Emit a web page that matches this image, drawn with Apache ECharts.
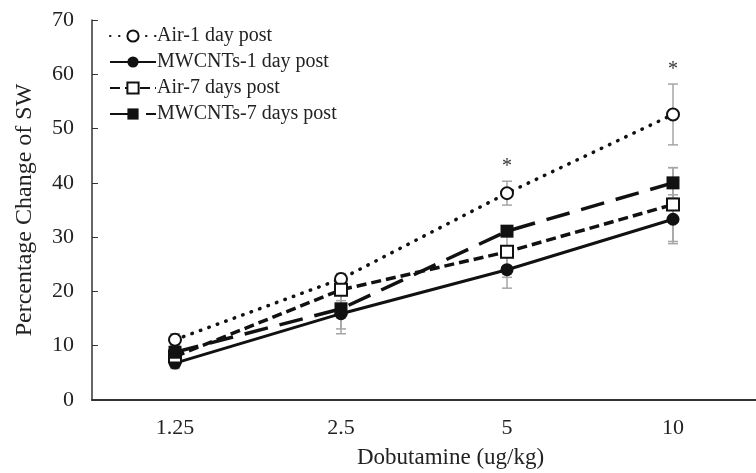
<!DOCTYPE html>
<html>
<head>
<meta charset="utf-8">
<script src="https://cdn.jsdelivr.net/npm/echarts@6/dist/echarts.min.js"></script>
<style>
  html, body { margin: 0; padding: 0; background: #fff; }
  #main { width: 756px; height: 473px; }
</style>
</head>
<body>
<div id="main"></div>
<script>
// 剂量分类
var doses = ["1.25", "2.5", "5", "10"];
// 各组均值
var air1 = [11.1, 22.3, 38.1, 52.6];
var mw1 = [6.8, 15.9, 24.0, 33.3];
var air7 = [8.0, 20.3, 27.3, 36.0];
var mw7 = [8.8, 16.8, 31.1, 40.0];
// 误差 (±)
var air1Err = [1.1, 1.0, 2.2, 5.6];
var mw1Err = [1.0, 3.7, 3.4, 4.5];
var air7Err = [1.2, 2.0, 4.7, 6.8];
var mw7Err = [1.0, 3.7, 0.9, 2.8];
// 显著性标记
var sigMarks = ["", "", "*", "*"];

var serif = "Liberation Serif";
var oChart = echarts.init(document.getElementById("main"));

function errData(vals, errs) {
  var out = [];
  for (var i = 0; i < vals.length; i++) {
    out.push([i, vals[i], errs[i]]);
  }
  return out;
}

// 误差线
function errSeries(vals, errs) {
  return {
    type: "custom",
    z: 1,
    silent: true,
    data: errData(vals, errs),
    renderItem: function (params, api) {
      var x = api.value(0), y = api.value(1), e = api.value(2);
      var p1 = api.coord([x, y + e]);
      var p2 = api.coord([x, y - e]);
      var st = { stroke: "#a6a6a6", lineWidth: 1.5 };
      return {
        type: "group",
        children: [
          { type: "line", shape: { x1: p1[0], y1: p1[1], x2: p2[0], y2: p2[1] }, style: st },
          { type: "line", shape: { x1: p1[0] - 5, y1: p1[1], x2: p1[0] + 5, y2: p1[1] }, style: st },
          { type: "line", shape: { x1: p2[0] - 5, y1: p2[1], x2: p2[0] + 5, y2: p2[1] }, style: st },
        ],
      };
    },
  };
}

var sigData = [];
for (var i = 0; i < doses.length; i++) {
  sigData.push([i, air1[i] + air1Err[i]]);
}

oChart.setOption({
  animation: false,
  title: {
    text: "Dobutamine (ug/kg)",
    left: 357,
    top: 446,
    padding: 0,
    textStyle: { fontFamily: serif, fontSize: 23, fontWeight: "normal", color: "#222" },
  },
  legend: {
    orient: "vertical",
    left: 104,
    top: 21,
    itemWidth: 46,
    itemHeight: 14,
    itemGap: 6,
    textStyle: { fontFamily: serif, fontSize: 20, color: "#222", padding: [0, 0, 0, -4] },
    data: ["Air-1 day post", "MWCNTs-1 day post", "Air-7 days post", "MWCNTs-7 days post"],
  },
  grid: {
    left: 92,
    top: 20,
    width: 676,
    height: 380,
  },
  xAxis: {
    type: "category",
    data: doses,
    boundaryGap: true,
    axisLine: { lineStyle: { color: "#333", width: 2 } },
    axisTick: { show: false },
    axisLabel: { fontFamily: serif, fontSize: 22, color: "#222", margin: 17 },
  },
  yAxis: {
    type: "value",
    min: 0,
    max: 70,
    interval: 10,
    name: "Percentage Change of SW",
    nameLocation: "middle",
    nameGap: 55,
    nameTextStyle: { fontFamily: serif, fontSize: 24, color: "#222" },
    axisLine: { show: true, lineStyle: { color: "#333", width: 1.5 } },
    axisTick: { show: true, inside: true, length: 6, lineStyle: { color: "#333" } },
    axisLabel: { fontFamily: serif, fontSize: 22, color: "#222", margin: 18 },
    splitLine: { show: false },
  },
  series: [
    errSeries(air1, air1Err),
    errSeries(mw1, mw1Err),
    errSeries(air7, air7Err),
    errSeries(mw7, mw7Err),
    {
      name: "Air-1 day post",
      type: "line",
      z: 5,
      data: air1,
      symbol: "emptyCircle",
      symbolSize: 12,
      lineStyle: { color: "#111", width: 3.5, type: [0.5, 8.5], cap: "round" },
      itemStyle: { color: "#111", borderWidth: 2 },
    },
    {
      name: "MWCNTs-1 day post",
      type: "line",
      z: 5,
      data: mw1,
      symbol: "circle",
      symbolSize: 13,
      lineStyle: { color: "#111", width: 3 },
      itemStyle: { color: "#111" },
    },
    {
      name: "Air-7 days post",
      type: "line",
      z: 5,
      data: air7,
      symbol: "emptyRect",
      symbolSize: 12,
      lineStyle: { color: "#111", width: 3.5, type: [10, 5] },
      itemStyle: { color: "#111", borderWidth: 2 },
    },
    {
      name: "MWCNTs-7 days post",
      type: "line",
      z: 5,
      data: mw7,
      symbol: "rect",
      symbolSize: 13,
      lineStyle: { color: "#111", width: 3.5, type: [24, 12] },
      itemStyle: { color: "#111" },
    },
    {
      type: "custom",
      z: 6,
      silent: true,
      data: sigData,
      renderItem: function (params, api) {
        var p = api.coord([api.value(0), api.value(1)]);
        return {
          type: "text",
          x: p[0],
          y: p[1] - 14,
          style: {
            text: sigMarks[params.dataIndex],
            fontFamily: serif,
            fontSize: 20,
            fill: "#333",
            align: "center",
            verticalAlign: "middle",
          },
        };
      },
    },
  ],
});
</script>
</body>
</html>
